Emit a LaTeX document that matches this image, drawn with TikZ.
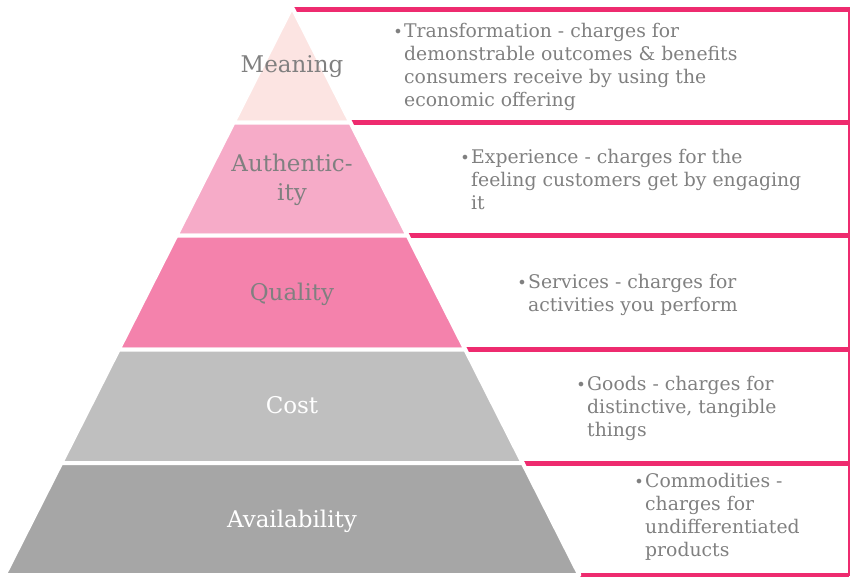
\documentclass[tikz,border=0pt]{standalone}
\usepackage{fontspec}
\setmainfont{DejaVu Serif}
\usepackage{tikz}
\usetikzlibrary{positioning}

\definecolor{linepink}{HTML}{EE2B6F}
\definecolor{meaningfill}{HTML}{FCE4E2}
\definecolor{authfill}{HTML}{F6ABC8}
\definecolor{qualityfill}{HTML}{F482AC}
\definecolor{costfill}{HTML}{BFBFBF}
\definecolor{availfill}{HTML}{A6A6A6}
\definecolor{textgray}{HTML}{808080}

\newcommand{\dotmark}{\leavevmode\llap{{\fontsize{16}{16}\selectfont\textbullet}\hspace{1.5pt}}}

\begin{document}
\begin{tikzpicture}[x=1pt,y=-1pt,
    layer/.style={draw=white,line width=4pt,line join=round},
    pinkrule/.style={draw=linepink,line width=5pt},
    layerlabel/.style={anchor=base,inner sep=0pt,font=\fontsize{23}{29}\selectfont},
    offer/.style={anchor=base west,inner sep=0pt,text=textgray,font=\fontsize{18.8}{23}\selectfont}]
\useasboundingbox (0,0) rectangle (851,576);

% boxes behind the pyramid
\draw[pinkrule] (292,9.5) -- (849,9.5);
\draw[pinkrule] (292,122.5) -- (849,122.5);
\draw[pinkrule] (292,235.5) -- (849,235.5);
\draw[pinkrule] (292,349.5) -- (849,349.5);
\draw[pinkrule] (292,463) -- (849,463);
\draw[pinkrule] (292,575) -- (849,575);
\draw[linepink,line width=1.3pt] (849,7) -- (849,576);

% pyramid
\filldraw[layer,fill=meaningfill] (292,7) -- (350.4,122.5) -- (233.6,122.5) -- cycle;
\filldraw[layer,fill=authfill] (233.6,122.5) -- (350.4,122.5) -- (407.6,235.5) -- (176.4,235.5) -- cycle;
\filldraw[layer,fill=qualityfill] (176.4,235.5) -- (407.6,235.5) -- (465.3,349.5) -- (118.7,349.5) -- cycle;
\filldraw[layer,fill=costfill] (118.7,349.5) -- (465.3,349.5) -- (522.7,463) -- (61.3,463) -- cycle;
\filldraw[layer,fill=availfill] (61.3,463) -- (522.7,463) -- (579.4,575) -- (4.6,575) -- cycle;

\node[layerlabel,text=textgray] (meaning) at (292,72) {Meaning};
\node[layerlabel,text=textgray] (authenticity) at (292,171) {\begin{tabular}[t]{@{}c@{}}Authentic-\\ity\end{tabular}};
\node[layerlabel,text=textgray] (quality) at (292,300) {Quality};
\node[layerlabel,text=white] (cost) at (292,413) {Cost};
\node[layerlabel,text=white] (availability) at (292,527) {Availability};

% offerings
\node[offer] (transformation) at (404,37) {\parbox[t]{400pt}{\raggedright\dotmark Transformation - charges for\\demonstrable outcomes \& benefits\\consumers receive by using the\\economic offering}};
\node[offer] (experience) at (471,163) {\parbox[t]{360pt}{\raggedright\dotmark Experience - charges for the\\feeling customers get by engaging\\it}};
\node[offer] (services) at (528,288) {\parbox[t]{300pt}{\raggedright\dotmark Services - charges for\\activities you perform}};
\node[offer] (goods) at (587,390) {\parbox[t]{250pt}{\raggedright\dotmark Goods - charges for\\distinctive, tangible\\things}};
\node[offer] (commodities) at (645,487) {\parbox[t]{200pt}{\raggedright\dotmark Commodities -\\charges for\\undifferentiated\\products}};
\end{tikzpicture}
\end{document}
